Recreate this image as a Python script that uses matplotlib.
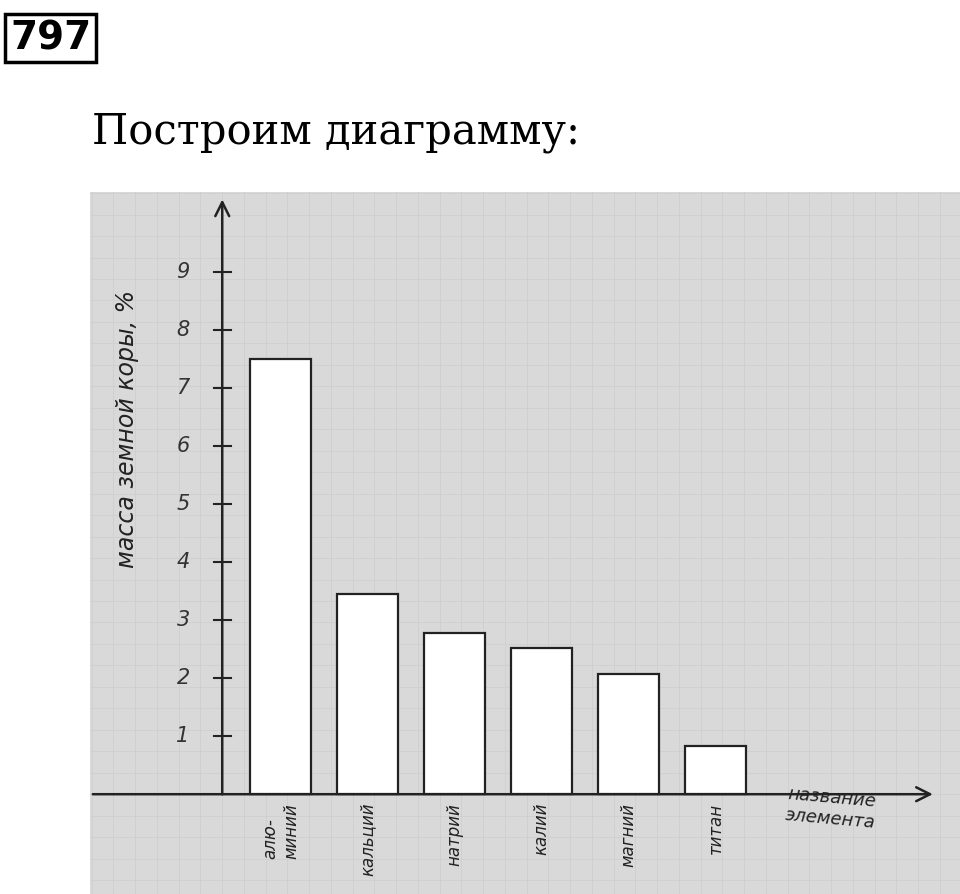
import matplotlib.pyplot as plt
from matplotlib.patches import Rectangle

elements = ["алю-\nминий", "кальций", "натрий", "калий", "магний", "титан"]
mass_pct = [7.5, 3.45, 2.78, 2.52, 2.07, 0.83]
y_ticks = [1, 2, 3, 4, 5, 6, 7, 8, 9]

fig = plt.figure(figsize=(9.6, 8.94), dpi=100)
fig.patch.set_facecolor("white")

# header
fig.text(10 / 960, 1 - 38 / 894, "797", fontsize=28, fontweight="bold", va="center", ha="left",
         family="DejaVu Sans", bbox=dict(boxstyle="square,pad=0.12", fc="white", ec="black", lw=2.5))
fig.text(92 / 960, 1 - 132 / 894, "Построим диаграмму:", fontsize=30, va="center", ha="left",
         family="DejaVu Serif")

# photo region
ax = fig.add_axes([90 / 960, 0, 870 / 960, (894 - 192) / 894])
ax.set_facecolor("#d9d9d9")
ax.set_xlim(-1.52, 8.48)
ax.set_ylim(-1.72, 10.38)
for s in ax.spines.values():
    s.set_visible(False)
ax.set_xticks([])
ax.set_yticks([])

# faint squared paper
for gx in [i * 0.25 for i in range(-8, 36)]:
    ax.axvline(gx, color="#cfcfcf", lw=0.6, zorder=0)
for gy in [i * 0.37 for i in range(-6, 30)]:
    ax.axhline(gy, color="#cfcfcf", lw=0.6, zorder=0)

# axes arrows
ax.annotate("", xy=(0, 10.3), xytext=(0, -0.05),
            arrowprops=dict(arrowstyle="->", lw=1.8, color="#222222", mutation_scale=25))
ax.annotate("", xy=(8.2, 0), xytext=(-1.52, 0),
            arrowprops=dict(arrowstyle="->", lw=1.8, color="#222222", mutation_scale=25))

for t in y_ticks:
    ax.plot([-0.1, 0.1], [t, t], color="#222222", lw=1.5)
    ax.text(-0.45, t, str(t), fontsize=15, ha="center", va="center", color="#333333", style="italic")

ax.text(-1.1, 6.3, "масса земной коры, %", rotation=90, fontsize=17, ha="center", va="center",
        color="#222222", style="italic")

xs = [0.67 + i for i in range(len(elements))]
for x, v, name in zip(xs, mass_pct, elements):
    ax.add_patch(Rectangle((x - 0.35, 0), 0.7, v, fc="white", ec="#222222", lw=1.6, zorder=3))
    ax.text(x, -0.15, name, rotation=90, fontsize=12, ha="center", va="top", color="#222222",
            style="italic", multialignment="left")

ax.text(7.0, -0.25, "название\nэлемента", fontsize=13, ha="center", va="center", color="#222222",
        style="italic", rotation=-5)

fig.savefig("out.png", dpi=100)
